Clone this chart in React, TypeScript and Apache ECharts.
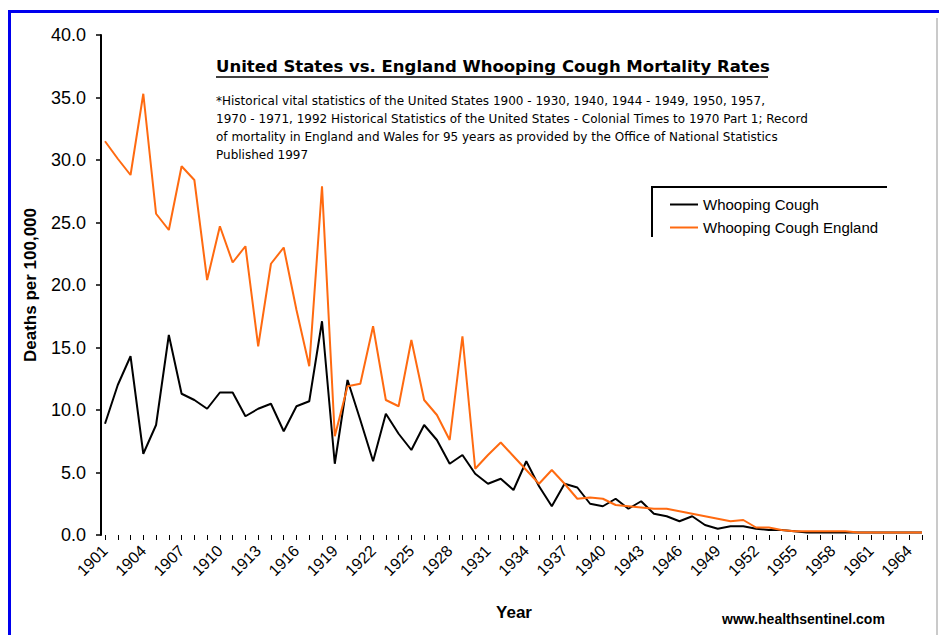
import { useEffect, useRef } from "react";
import * as echarts from "echarts";

const YEARS = [
  "1901", "1902", "1903", "1904", "1905", "1906", "1907", "1908", "1909", "1910",
  "1911", "1912", "1913", "1914", "1915", "1916", "1917", "1918", "1919", "1920",
  "1921", "1922", "1923", "1924", "1925", "1926", "1927", "1928", "1929", "1930",
  "1931", "1932", "1933", "1934", "1935", "1936", "1937", "1938", "1939", "1940",
  "1941", "1942", "1943", "1944", "1945", "1946", "1947", "1948", "1949", "1950",
  "1951", "1952", "1953", "1954", "1955", "1956", "1957", "1958", "1959", "1960",
  "1961", "1962", "1963", "1964", "1965",
];

const US_RATES = [
  8.9, 12.0, 14.3, 6.5, 8.8, 16.0, 11.3, 10.8, 10.1, 11.4,
  11.4, 9.5, 10.1, 10.5, 8.3, 10.3, 10.7, 17.1, 5.7, 12.4,
  9.2, 5.9, 9.7, 8.1, 6.8, 8.8, 7.6, 5.7, 6.4, 4.9,
  4.1, 4.5, 3.6, 5.9, 3.9, 2.3, 4.1, 3.8, 2.5, 2.3,
  2.9, 2.1, 2.7, 1.7, 1.5, 1.1, 1.5, 0.8, 0.5, 0.7,
  0.7, 0.5, 0.4, 0.4, 0.3, 0.2, 0.2, 0.2, 0.2, 0.2,
  0.2, 0.2, 0.2, 0.2, 0.2,
];

const ENGLAND_RATES = [
  31.5, 30.1, 28.8, 35.3, 25.7, 24.4, 29.5, 28.4, 20.4, 24.7,
  21.8, 23.1, 15.1, 21.7, 23.0, 18.0, 13.5, 27.9, 7.9, 11.9,
  12.1, 16.7, 10.8, 10.3, 15.6, 10.8, 9.6, 7.6, 15.9, 5.3,
  6.4, 7.4, 6.3, 5.2, 4.1, 5.2, 4.1, 2.9, 3.0, 2.9,
  2.4, 2.3, 2.2, 2.1, 2.1, 1.9, 1.7, 1.5, 1.3, 1.1,
  1.2, 0.6, 0.6, 0.4, 0.3, 0.3, 0.3, 0.3, 0.3, 0.2,
  0.2, 0.2, 0.2, 0.2, 0.2,
];

const SERIES_NAMES = ["Whooping Cough", "Whooping Cough England"];
const SERIES_COLORS = ["#000000", "#ff6a10"];
const Y_MIN = 0;
const Y_MAX = 40;
const Y_STEP = 5;

const TITLE = "United States vs. England Whooping Cough Mortality Rates";
const NOTE_LINES = [
  "*Historical vital statistics of the United States 1900 - 1930, 1940, 1944 - 1949, 1950, 1957,",
  "1970 - 1971, 1992 Historical Statistics of the United States - Colonial Times to 1970 Part 1; Record",
  "of mortality in England and Wales for 95 years as provided by the Office of National Statistics",
  "Published 1997",
];
const X_NAME = "Year";
const Y_NAME = "Deaths per 100,000";
const SOURCE = "www.healthsentinel.com";

const FONT = "'Liberation Sans', Arial, Helvetica, sans-serif";
const WIDE_FONT = "'DejaVu Sans', Verdana, sans-serif";

export default function App() {
  const ref = useRef<HTMLDivElement>(null);

  useEffect(() => {
    if (!ref.current) return;
    const chart = echarts.init(ref.current, null, { renderer: "svg" });

    const noteTexts = NOTE_LINES.map((t, i) => ({
      type: "text",
      x: 216,
      y: 101 + i * 18,
      style: {
        text: t,
        fill: "#000",
        font: `12px ${WIDE_FONT}`,
        verticalAlign: "middle",
      },
    }));

    chart.setOption({
      animation: false,
      backgroundColor: "#ffffff",
      textStyle: { fontFamily: FONT },
      grid: { left: 105, top: 35, width: 817, height: 500, containLabel: false },
      legend: {
        data: SERIES_NAMES,
        orient: "vertical",
        left: 665,
        top: 192,
        itemWidth: 28,
        itemHeight: 2,
        itemGap: 8,
        icon: "rect",
        textStyle: { fontSize: 15, color: "#000", fontFamily: FONT, lineHeight: 15 },
      },
      xAxis: {
        type: "category",
        data: YEARS,
        boundaryGap: false,
        axisLine: { show: false },
        axisTick: {
          show: true,
          interval: 0,
          length: 5,
          lineStyle: { color: "#000", width: 1 },
        },
        axisLabel: {
          interval: 2,
          rotate: 45,
          fontSize: 16,
          color: "#000",
          margin: 13,
          fontFamily: FONT,
        },
        splitLine: { show: false },
      },
      yAxis: {
        type: "value",
        min: Y_MIN,
        max: Y_MAX,
        interval: Y_STEP,
        offset: 4,
        name: Y_NAME,
        nameLocation: "middle",
        nameRotate: 90,
        nameGap: 62,
        nameTextStyle: { fontSize: 17, fontWeight: "bold", color: "#000", fontFamily: FONT },
        axisLine: { show: true, lineStyle: { color: "#000", width: 2 } },
        axisTick: { show: true, length: 5, lineStyle: { color: "#000", width: 1.5 } },
        axisLabel: {
          fontSize: 18,
          color: "#000",
          margin: 15,
          fontFamily: FONT,
          formatter: (v: number) => v.toFixed(1),
        },
        splitLine: { show: false },
      },
      series: [
        {
          name: SERIES_NAMES[0],
          type: "line",
          data: US_RATES,
          showSymbol: false,
          symbol: "none",
          lineStyle: { color: SERIES_COLORS[0], width: 2 },
          itemStyle: { color: SERIES_COLORS[0] },
        },
        {
          name: SERIES_NAMES[1],
          type: "line",
          data: ENGLAND_RATES,
          showSymbol: false,
          symbol: "none",
          lineStyle: { color: SERIES_COLORS[1], width: 2 },
          itemStyle: { color: SERIES_COLORS[1] },
        },
      ],
      graphic: [
        // frame
        { type: "rect", shape: { x: 8, y: 10, width: 931, height: 3 }, style: { fill: "#0000ee" } },
        { type: "rect", shape: { x: 8, y: 10, width: 3, height: 625 }, style: { fill: "#0000ee" } },
        { type: "line", shape: { x1: 937, y1: 18, x2: 937, y2: 635 }, style: { stroke: "#b8b8b8", lineWidth: 1.5 } },
        // title
        {
          type: "text",
          x: 216,
          y: 66,
          style: {
            text: TITLE,
            fill: "#000",
            font: `bold 16.5px ${WIDE_FONT}`,
            verticalAlign: "middle",
          },
        },
        { type: "line", shape: { x1: 216, y1: 77, x2: 768, y2: 77 }, style: { stroke: "#000", lineWidth: 1.5 } },
        ...noteTexts,
        // legend box (top and left borders)
        { type: "line", shape: { x1: 652, y1: 187, x2: 887, y2: 187 }, style: { stroke: "#000", lineWidth: 2 } },
        { type: "line", shape: { x1: 652, y1: 186, x2: 652, y2: 237 }, style: { stroke: "#000", lineWidth: 2 } },
        // axis name
        {
          type: "text",
          x: 514,
          y: 612,
          style: {
            text: X_NAME,
            fill: "#000",
            font: `bold 17px ${FONT}`,
            align: "center",
            verticalAlign: "middle",
          },
        },
        {
          type: "text",
          x: 722,
          y: 619,
          style: {
            text: SOURCE,
            fill: "#000",
            font: `bold 14px ${FONT}`,
            verticalAlign: "middle",
          },
        },
      ],
    });

    return () => chart.dispose();
  }, []);

  return (
    <div
      ref={ref}
      style={{ position: "fixed", left: 0, top: 0, width: 939, height: 635, background: "#fff" }}
    />
  );
}
